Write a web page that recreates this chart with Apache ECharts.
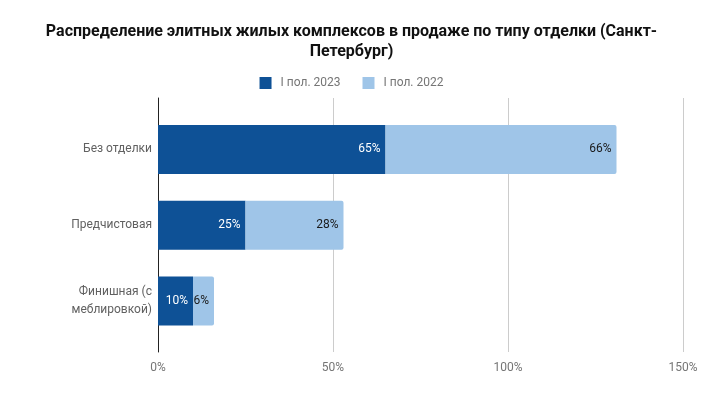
<!DOCTYPE html>
<html><head><meta charset="utf-8">
<script src="https://cdn.jsdelivr.net/npm/echarts@6/dist/echarts.min.js"></script>
<style>html,body{margin:0;padding:0;background:#fff}#c{width:703px;height:393px}</style>
</head><body><div id="c"></div>
<script>
const categories = ['Без отделки', 'Предчистовая', 'Финишная (с\nмеблировкой)'];
const seriesNames = ['I пол. 2023', 'I пол. 2022'];
const values2023 = [65, 25, 10];
const values2022 = [66, 28, 6];
const xTicks = [0, 50, 100, 150];

const chart = echarts.init(document.getElementById('c'));
const font = 'Roboto, "Noto Sans", sans-serif';
const xMin = xTicks[0], xMax = xTicks[xTicks.length - 1];
chart.setOption({
  animation: false,
  textStyle: { fontFamily: font },
  title: {
    text: 'Распределение элитных жилых комплексов в продаже по типу отделки (Санкт-\nПетербург)',
    left: 'center', top: 17,
    textStyle: { fontFamily: font, fontSize: 16, fontWeight: 'bold', color: '#111', lineHeight: 20 }
  },
  legend: {
    top: 72, left: 'center', itemWidth: 12, itemHeight: 12, itemGap: 22,
    icon: 'rect',
    textStyle: { fontFamily: font, fontSize: 12, color: '#757575', padding: [0, 0, 0, 4] },
    data: seriesNames
  },
  grid: [
    { left: 158, right: 20, top: 98, bottom: 41 },
    { left: 158, right: 20, top: 111.5, bottom: 54 }
  ],
  xAxis: [
    {
      gridIndex: 0, type: 'value', min: xMin, max: xMax, interval: 50,
      axisLine: { show: false }, axisTick: { show: false },
      splitLine: { show: true, lineStyle: { color: '#cccccc', width: 1 } },
      axisLabel: { formatter: '{value}%', color: '#757575', fontSize: 12, fontFamily: font, margin: 10 }
    },
    {
      gridIndex: 1, type: 'value', min: xMin, max: xMax, interval: 50, show: false
    }
  ],
  yAxis: [
    {
      gridIndex: 0, type: 'category', data: [''],
      axisLine: { show: true, lineStyle: { color: '#222', width: 1 } },
      axisTick: { show: false }, axisLabel: { show: false }, splitLine: { show: false }
    },
    {
      gridIndex: 1, type: 'category', inverse: true, data: categories,
      axisLine: { show: false }, axisTick: { show: false }, splitLine: { show: false },
      axisLabel: { color: '#616161', fontSize: 12, fontFamily: font, margin: 6, lineHeight: 18, align: 'right' }
    }
  ],
  series: [
    {
      name: seriesNames[0], type: 'bar', stack: 's', barWidth: 49,
      xAxisIndex: 1, yAxisIndex: 1,
      itemStyle: { color: '#0e5196' },
      label: { show: true, position: 'insideRight', distance: 5, formatter: '{c}%', color: '#ffffff', fontSize: 12, fontFamily: font },
      data: values2023
    },
    {
      name: seriesNames[1], type: 'bar', stack: 's', barWidth: 49,
      xAxisIndex: 1, yAxisIndex: 1,
      itemStyle: { color: '#9fc5e8', borderRadius: [0, 2, 2, 0] },
      label: { show: true, position: 'insideRight', distance: 5, formatter: '{c}%', color: '#1a1a1a', fontSize: 12, fontFamily: font },
      data: values2022
    }
  ]
});
</script></body></html>
